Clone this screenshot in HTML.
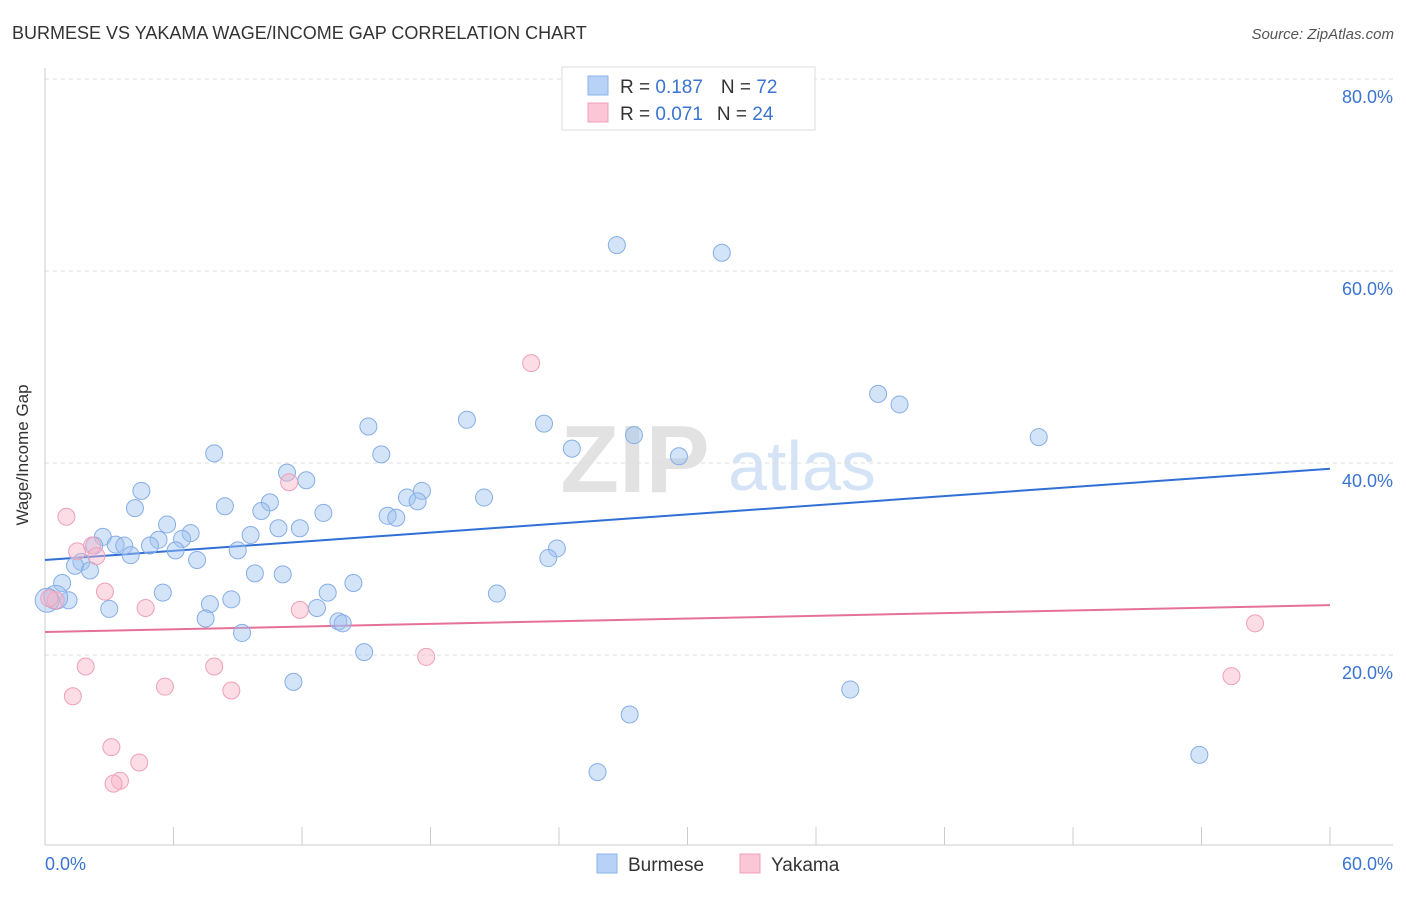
<!DOCTYPE html>
<html><head><meta charset="utf-8"><style>
body{margin:0;background:#fff;font-family:"Liberation Sans",sans-serif;}
svg text{font-family:"Liberation Sans",sans-serif;}
</style></head><body>
<svg id="chart" width="1406" height="892" xmlns="http://www.w3.org/2000/svg">
<text x="12" y="39" font-size="18" fill="#333">BURMESE VS YAKAMA WAGE/INCOME GAP CORRELATION CHART</text>
<text x="1394" y="39" font-size="15" fill="#555" font-style="italic" text-anchor="end">Source: ZipAtlas.com</text>
<g>
<text x="635" y="492" font-size="96" font-family="Liberation Serif,serif" fill="#e2e2e2" text-anchor="middle" font-weight="bold">ZIP</text>
<text x="802" y="490" font-size="70" fill="#d4e3f6" text-anchor="middle">atlas</text>
</g>
<g id="grid"></g>
<g id="axes"></g>
<g id="lines"></g>
<g id="pts"></g>
<text x="28" y="455" font-size="17" fill="#333" text-anchor="middle" transform="rotate(-90 28 455)">Wage/Income Gap</text>
<text x="45" y="870" font-size="18" fill="#3b74d0">0.0%</text>
<text x="1393" y="870" font-size="18" fill="#3b74d0" text-anchor="end">60.0%</text>
<g>
<rect x="562" y="67" width="253" height="63" fill="#fff" stroke="#ddd"/>
<rect x="588" y="76" width="20" height="19" fill="#b7d2f6" stroke="#8ab4e8"/>
<rect x="588" y="103" width="20" height="19" fill="#fbc6d6" stroke="#f0a0b8"/>
<text x="620" y="93" font-size="19" fill="#333">R = <tspan fill="#3b74d0">0.187</tspan><tspan dx="18">N = </tspan><tspan fill="#3b74d0">72</tspan></text>
<text x="620" y="120" font-size="19" fill="#333">R = <tspan fill="#3b74d0">0.071</tspan><tspan dx="14">N = </tspan><tspan fill="#3b74d0">24</tspan></text>
</g>
<g>
<rect x="597" y="854" width="20" height="19" fill="#b7d2f6" stroke="#8ab4e8"/>
<text x="628" y="871" font-size="19" fill="#333">Burmese</text>
<rect x="740" y="854" width="20" height="19" fill="#fbc6d6" stroke="#f0a0b8"/>
<text x="771" y="871" font-size="19" fill="#333">Yakama</text>
</g>
</svg>
<script>
const yTicks=[20,40,60,80];
const yTickLabels=["20.0%","40.0%","60.0%","80.0%"];
const xTicks=[0,6,12,18,24,30,36,42,48,54,60];
const burmeseX=[26.7,31.6,38.9,39.9,46.4,19.7,23.3,15.1,27.5,24.6,29.6,7.9,15.7,11.3,12.2,4.5,16.9,17.6,17.4,20.5,8.4,10.5,4.2,10.1,13.0,16.0,16.4,5.7,10.9,11.9,6.8,2.7,6.4,5.3,9.6,3.3,3.7,2.3,4.9,6.1,9.0,23.9,4.0,23.5,7.1,1.7,1.4,2.1,9.8,11.1,0.8,14.4,5.5,13.2,21.1,8.7,1.1,7.7,3.0,12.7,7.5,13.7,13.9,9.2,14.9,11.6,37.6,27.3,25.8,53.9,0.5,0.1];
const burmeseY=[62.7,61.9,47.2,46.1,42.7,44.5,44.1,43.8,42.9,41.5,40.7,41.0,40.9,39.0,38.2,37.1,36.4,37.1,36.0,36.4,35.5,35.9,35.3,35.0,34.8,34.5,34.3,33.6,33.2,33.2,32.7,32.3,32.1,32.0,32.5,31.5,31.4,31.4,31.4,30.9,30.9,31.1,30.4,30.1,29.9,29.7,29.3,28.8,28.5,28.4,27.5,27.5,26.5,26.5,26.4,25.8,25.7,25.3,24.8,24.9,23.8,23.5,23.3,22.3,20.3,17.2,16.4,13.8,7.8,9.6,26.0,25.7];
const yakamaX=[1.0,11.4,22.7,1.5,2.2,2.4,2.8,4.7,11.9,0.5,0.2,1.9,7.9,17.8,1.3,5.6,8.7,3.1,4.4,3.5,3.2,56.5,55.4];
const yakamaY=[34.4,38.0,50.4,30.8,31.4,30.3,26.6,24.9,24.7,25.7,25.9,18.8,18.8,19.8,15.7,16.7,16.3,10.4,8.8,6.9,6.6,23.3,17.8];
const burmeseTrend=[29.9,39.4];
const yakamaTrend=[22.4,25.2];
const NS="http://www.w3.org/2000/svg";
const X0=45,X1=1330,Y0=847,PPY=9.6;
function sx(v){return X0+(X1-X0)*v/60;}
function sy(v){return Y0-v*PPY;}
function mk(tag,attrs,parent){const e=document.createElementNS(NS,tag);for(const k in attrs)e.setAttribute(k,attrs[k]);document.getElementById(parent).appendChild(e);return e;}
yTicks.forEach((t,i)=>{
 const l=mk('line',{x1:45,x2:1393,y1:sy(t),y2:sy(t),stroke:'#ddd','stroke-dasharray':'4,4'},'grid');
 
 
 const tx=mk('text',{x:1393,y:sy(t)+24,'font-size':18,fill:'#3b74d0','text-anchor':'end'},'grid');
 tx.textContent=yTickLabels[i];
 
 
});
const ax=mk('line',{x1:45,x2:45,y1:68,y2:845,stroke:'#ccc'},'axes');


const bx=mk('line',{x1:45,x2:1393,y1:845,y2:845,stroke:'#ccc'},'axes');


xTicks.forEach(t=>{
 const l=mk('line',{x1:sx(t),x2:sx(t),y1:827,y2:845,stroke:'#ccc'},'axes');
 
 
});
function pts(xs,ys,fill,stroke,name,bigCount){
 xs.forEach((x,i)=>{
  const big=i>=xs.length-bigCount;
  const c=mk('circle',{cx:sx(x),cy:sy(ys[i]),r:big?12:8.5,fill:fill,stroke:stroke,'stroke-width':1},'pts');
  
  
 });
}
pts(burmeseX,burmeseY,'rgba(160,196,240,0.45)','#86aee6','burmese-point',2);
pts(yakamaX,yakamaY,'rgba(248,180,200,0.45)','#eea0b8','yakama-point',0);
const bl=mk('line',{x1:sx(0),y1:sy(burmeseTrend[0]),x2:sx(60),y2:sy(burmeseTrend[1]),stroke:'#2f6fd6','stroke-width':2},'lines');


const pl=mk('line',{x1:sx(0),y1:sy(yakamaTrend[0]),x2:sx(60),y2:sy(yakamaTrend[1]),stroke:'#e5719a','stroke-width':2},'lines');


</script>
</body></html>
